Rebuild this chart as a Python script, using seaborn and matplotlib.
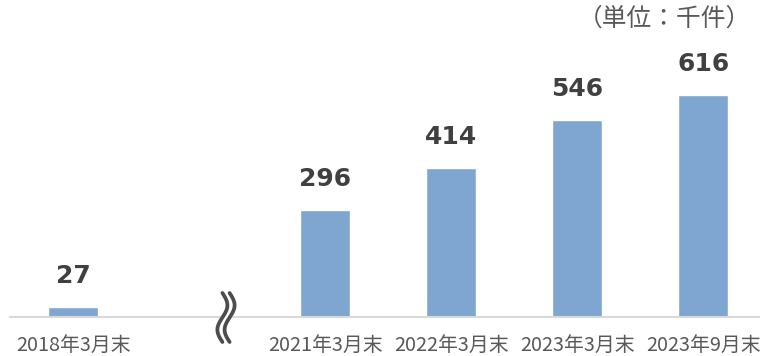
import numpy as np
import pandas as pd
import matplotlib
matplotlib.use("Agg")
import matplotlib.pyplot as plt
import seaborn as sns

# Number of cases (thousands) at each period end
periods = ["2018年3月末", "2021年3月末", "2022年3月末", "2023年3月末", "2023年9月末"]
counts = [27, 296, 414, 546, 616]
unit_label = "（単位：千件）"

# Empty slot between 2018 and 2021 marks the omitted years
slot_order = [periods[0], " ", *periods[1:]]

sns.set_theme(style="white")
plt.rcParams["font.family"] = ["Noto Sans CJK JP", "DejaVu Sans"]

BAR = "#7fa6d0"
TEXT = "#595959"
VALUE = "#404040"

df = pd.DataFrame({"period": periods, "count": counts})

fig = plt.figure(figsize=(7.6, 3.56), dpi=100)
ax = fig.add_axes([10 / 760, 39 / 356, 750 / 760, 317 / 356])

sns.barplot(data=df, x="period", y="count", order=slot_order,
            color=BAR, saturation=1, width=0.4, ax=ax)

ax.set_xlim(-0.5, 5.45)
ax.set_ylim(0, 879)
ax.set_xlabel("")
ax.set_ylabel("")
ax.set_yticks([])
for s in ["top", "right", "left"]:
    ax.spines[s].set_visible(False)
ax.spines["bottom"].set_color("#d9d9d9")
ax.spines["bottom"].set_linewidth(1.5)
ax.tick_params(axis="x", length=0, pad=13.2, labelsize=14.3, labelcolor=TEXT)

# Value labels above each bar (offset of 31 px)
for p, v in zip(periods, counts):
    i = slot_order.index(p)
    ax.annotate(f"{v}", xy=(i, v), xytext=(0, 31 * 72 / 100), textcoords="offset points",
                ha="center", va="center", fontsize=18, fontweight="bold",
                color=VALUE, family="DejaVu Sans", annotation_clip=False)

# Axis break symbol: two wavy strokes over a white band
t = np.linspace(0, 1, 100)
ys = 342 - t * 49
wave = -5 * np.sin(2 * np.pi * t)
def fig_xy(px, py):
    return px / 760, 1 - py / 356
bx, by = fig_xy(226 + wave, ys)
fig.add_artist(plt.Line2D(bx, by, color="white", lw=7.5, transform=fig.transFigure))
for dx in (-3.6, 3.6):
    lx, ly = fig_xy(226 + dx + wave, ys)
    fig.add_artist(plt.Line2D(lx, ly, color="#4d4d4d", lw=2.7,
                              transform=fig.transFigure, solid_capstyle="round"))

fig.text(751 / 760, 1 - 19 / 356, unit_label, ha="right", va="center",
         fontsize=17.8, color=TEXT)

fig.savefig("out.png", dpi=100)
